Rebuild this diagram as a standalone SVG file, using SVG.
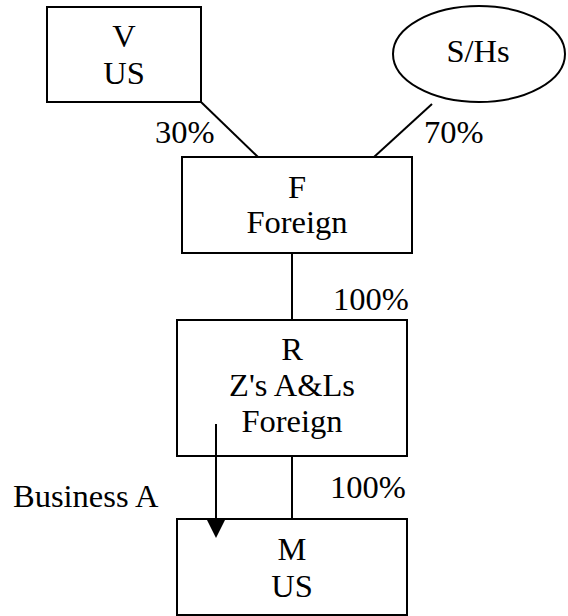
<svg xmlns="http://www.w3.org/2000/svg" width="568" height="616" viewBox="0 0 568 616">
  <style>
    .box { fill: #fff; stroke: #000; stroke-width: 2; }
    .edge { fill: none; stroke: #000; stroke-width: 2; }
    text { font-family: "Liberation Serif", "Times New Roman", serif; font-size: 32.5px; fill: #000; }
    .c { text-anchor: middle; }
  </style>
  <defs>
    <marker id="arrowhead" markerUnits="userSpaceOnUse" markerWidth="22" markerHeight="22" refX="0" refY="11" orient="auto" viewBox="0 0 22 22">
      <path d="M0,1 L20,11 L0,21 Z" fill="#000"/>
    </marker>
  </defs>
  <rect width="568" height="616" fill="#fff"/>

  <g id="connectors">
    <line class="edge" x1="201" y1="102" x2="258" y2="157"/>
    <line class="edge" x1="432" y1="104" x2="374" y2="157"/>
    <line class="edge" x1="292" y1="253" x2="292" y2="320"/>
    <line class="edge" x1="292" y1="456" x2="292" y2="519"/>
  </g>

  <g id="node-v">
    <rect class="box" x="47" y="7" width="154" height="95"/>
    <text class="c" x="124" y="47">V</text>
    <text class="c" x="124" y="84">US</text>
  </g>

  <g id="node-sh">
    <ellipse class="box" cx="479" cy="54" rx="86" ry="48"/>
    <text class="c" x="478" y="62">S/Hs</text>
  </g>

  <g id="node-f">
    <rect class="box" x="182" y="157" width="230" height="96"/>
    <text class="c" x="297" y="198">F</text>
    <text class="c" x="297" y="233">Foreign</text>
  </g>

  <g id="node-r">
    <rect class="box" x="177" y="320" width="230" height="136"/>
    <text class="c" x="292" y="360">R</text>
    <text class="c" x="292" y="396">Z's A&amp;Ls</text>
    <text class="c" x="292" y="432">Foreign</text>
  </g>

  <g id="node-m">
    <rect class="box" x="177" y="519" width="230" height="96"/>
    <text class="c" x="292" y="560">M</text>
    <text class="c" x="292" y="597">US</text>
  </g>

  <g id="labels">
    <text x="155" y="143">30%</text>
    <text x="424" y="143">70%</text>
    <text x="333" y="310">100%</text>
    <text x="330" y="498">100%</text>
    <text x="13" y="507">Business A</text>
  </g>

  <g id="transfer-arrow">
    <line class="edge" x1="216" y1="424" x2="216" y2="518" marker-end="url(#arrowhead)"/>
  </g>
</svg>
